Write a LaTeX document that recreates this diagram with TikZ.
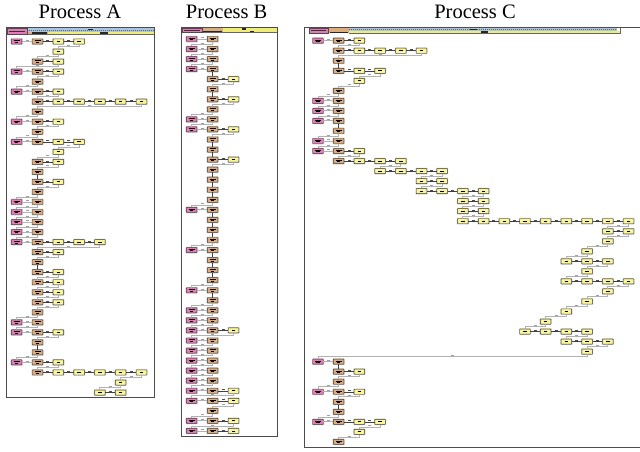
\documentclass[tikz,border=0pt]{standalone}
\usepackage{fontspec}
\setmainfont{Liberation Serif}
\usetikzlibrary{calc}
\definecolor{pinkbox}{RGB}{232,120,184}
\definecolor{tanbox}{RGB}{222,172,122}
\definecolor{yelbox}{RGB}{250,246,150}
\definecolor{bandblue}{RGB}{170,198,222}
\definecolor{bandyel}{RGB}{240,236,120}
\tikzset{
 boxbase/.style={rectangle, inner sep=0pt, minimum width=10.5pt, minimum height=5pt,
   draw=black!75, line width=0.45pt, rounded corners=0.4pt,
   preaction={draw=gray!55, line width=1.5pt}},
 box0/.style={boxbase, fill=pinkbox},
 box1/.style={boxbase, fill=tanbox},
 box2/.style={boxbase, fill=yelbox},
 hlink/.style={draw=black!75, line width=0.5pt},
 glink/.style={draw=gray!60, line width=0.9pt},
 vlink/.style={draw=black!75, line width=0.7pt},
 elbow/.style={draw=gray!60, line width=1pt},
 lbl/.style={inner sep=0pt, minimum width=3pt, minimum height=0.7pt, fill=black!70},
 glbl/.style={lbl, fill=gray!75},
 frame/.style={draw=black!70, line width=0.9pt, fill=white},
 ttl/.style={font=\fontsize{20.5}{24}\selectfont, anchor=base, inner sep=0pt},
}
\newcommand\pbtext{\vbox{\hrule width 6pt height 0.7pt\vskip 0.8pt\hbox to 6pt{\hss\vrule width 3.5pt height 0.7pt\hss}}}
\newcommand\ytext{\vrule width 3.5pt height 0.9pt}
\newcommand\bxtxt[1]{\ifnum#1<2 \pbtext\else\ytext\fi}
\def\lastnode{}\def\lastcol{0}
\newcommand\drawproc[6]{%
 \foreach \rowl [count=\ri from 0] in {#6} {
   \foreach \col [count=\ci from 1] in \rowl {
     \pgfmathtruncatemacro\bt{min(\col,2)}
     \pgfmathsetmacro\px{#2+#3*\col}
     \pgfmathsetmacro\py{#4+#5*\ri}
     \node[box\bt] (#1-\ri-\col) at (\px,\py) {\bxtxt{\bt}};
     \ifnum\ci>1
        \ifnum\lastcol=0
          \draw[glink] (\lastnode) -- node[above=0.4pt, glbl]{} (#1-\ri-\col);
        \else
          \draw[hlink] (\lastnode) -- node[above=0.4pt, lbl]{} (#1-\ri-\col);
        \fi
     \else
        \ifnum\ri>0
          \ifnum\lastcol=\col
            \draw[vlink] (\lastnode) -- (#1-\ri-\col);
          \else
            \draw[elbow] (\lastnode.south) -- ++(0,2.5) -| node[pos=0.25, above=0.4pt, glbl]{} (#1-\ri-\col.north);
          \fi
        \fi
     \fi
     \xdef\lastnode{#1-\ri-\col}\xdef\lastcol{\col}
   }
 }
}
\begin{document}
\begin{tikzpicture}[x=1pt,y=-1pt]
\useasboundingbox (0,0) rectangle (640,451);
% titles
\node[ttl] (tA) at (80,18.5) {Process A};
\node[ttl] (tB) at (226.7,18.5) {Process B};
\node[ttl] (tC) at (475,18.5) {Process C};
% frames
\draw[frame] (6,27) rectangle (154,397.5);
\draw[frame] (181.5,27) rectangle (277.5,436);
\draw[frame] (304,27) rectangle (642,447);
% header A
\fill[bandblue] (27,28) rectangle (153.5,31.5);
\draw[black!60, line width=0.4pt, dash pattern=on 1.2pt off 0.8pt] (27,29.7) -- (153.5,29.7);
\fill[bandyel] (27,31.5) rectangle (153.5,34.3);
\draw[black!60, line width=0.3pt] (27,34.3) -- (153.5,34.3);
\fill[tanbox] (27,31.5) rectangle (48,34.3);
\fill[black!85] (32,32.3) rectangle (46.5,34);
\fill[black!85] (88,29) rectangle (93,30.2);
\fill[black!85] (100,32.2) rectangle (108,33.6);
\draw[black!70, line width=0.4pt, fill=pinkbox] (7,28) rectangle (27,34.3);
\fill[black!80] (9,30.5) rectangle (25,31.6);
% header B
\fill[bandyel] (223,28) rectangle (277,32.5);
\fill[tanbox] (202,28) rectangle (223,32.5);
\fill[black!85] (203,30.6) rectangle (222,32);
\fill[black!85] (242,28.3) rectangle (246,29.5);
\fill[black!85] (250,30.8) rectangle (254,32);
\draw[black!60, line width=0.3pt] (202,32.5) -- (277,32.5);
\draw[black!70, line width=0.4pt, fill=pinkbox] (182.5,28) rectangle (202,32.5);
\fill[black!80] (184,29.6) rectangle (200,30.7);
% header C
\fill[bandblue] (349,28) rectangle (617,31);
\draw[black!60, line width=0.4pt, dash pattern=on 1.2pt off 0.8pt] (349,29.5) -- (617,29.5);
\fill[bandyel] (349,31) rectangle (620,33.5);
\draw[black!60, line width=0.3pt] (349,33.5) -- (620,33.5) -- (620,28);
\fill[tanbox] (328,28) rectangle (349,33.3);
\fill[black!85] (330,31.5) rectangle (348,32.8);
\fill[black!85] (470,28.5) rectangle (477,30);
\fill[black!85] (481,31.3) rectangle (488,33);
\draw[black!70, line width=0.4pt, fill=pinkbox] (309,28) rectangle (328,33.3);
\fill[black!80] (311,30.2) rectangle (326,31.3);
% Process A
\drawproc{A}{16.7}{20.8}{41.5}{10.03}{%
{0,1,2,3},{2},{1,2},{0,1,2},{1},{0,1,2},{1,2,3,4,5,6},{1},{0,1,2},{1},
{0,1,2,3},{2},{1,2},{1},{1,2},{1},{0,1},{0,1},{0,1},{0,1},
{0,1,2,3,4},{1,2},{1},{1,2},{1,2},{1,2},{1,2},{1},{0,1},{0,1,2},
{1},{1},{0,1,2},{1,2,3,4,5,6},{5},{4,5}}
% Process B
\drawproc{B}{191.7}{20.9}{39}{10.05}{%
{0,1},{0,1},{0,1},{0,1},{1,2},{1},{1,2},{1},{0,1},{0,1,2},
{1},{1},{1,2},{1},{1},{1},{1},{0,1},{1},{1},
{1},{0,1},{1},{1},{1},{0,1},{1},{0,1},{0,1},{0,1,2},
{0,1},{0,1},{0,1},{0,1},{0,1},{0,1,2},{0,1,2},{1},{0,1,2},{0,1,2}}
% Process C
\drawproc{C}{318}{20.7}{40.7}{10.03}{%
{0,1,2},{1,2,3,4,5},{1},{1,2,3},{2},{1},{0,1},{0,1},{0,1},{1},
{0,1},{0,1,2},{1,2,3,4},{3,4,5,6},{5,6},{5,6,7,8},{7,8},{7,8},{7,8,9,10,11,12,13,14,15},{14,15},
{14},{13},{12,13,14},{13},{12,13,14,15},{14},{13},{12},{11},{10,11,12,13},
{12,13,14},{13},{0,1},{1,2},{1},{0,1,2},{1},{1},{0,1,2,3},{2},
{1}}
\end{tikzpicture}
\end{document}
